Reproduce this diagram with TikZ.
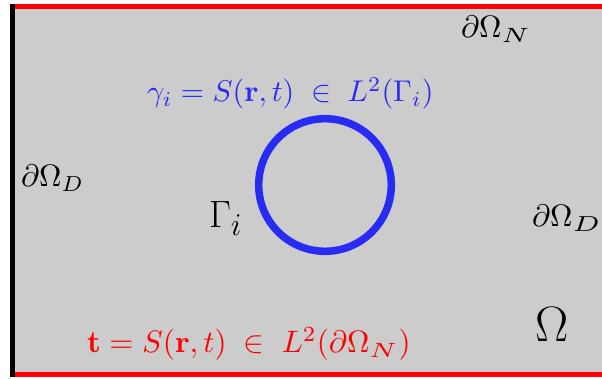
\documentclass[tikz,border=0pt]{standalone}
\usepackage{amsmath}
\usepackage{graphicx}
\definecolor{bggray}{RGB}{204,204,204}
\definecolor{myblue}{RGB}{40,44,242}
\definecolor{myred}{RGB}{255,0,0}
\newcommand{\subN}{\scalebox{1.25}[0.95]{$\scriptstyle N$}}
\newcommand{\subDwide}{\scalebox{1.3}[1]{$\scriptstyle D$}}
\begin{document}
\begin{tikzpicture}[x=1pt,y=1pt,
  lbl/.style={anchor=base west,inner sep=0pt,outer sep=0pt},
  bigtext/.style={font=\Huge}]
\useasboundingbox (0,0) rectangle (602,379);
\begin{scope}
\clip (0,0) rectangle (602,379);
\fill[bggray] (12,5) rectangle (610,374);
\draw[black,line width=5pt] (12.5,2) -- (12.5,375);
\draw[myred,line width=5pt] (15,372.5) -- (610,372.5);
\draw[myred,line width=5pt] (15,4.5) -- (610,4.5);
\draw[myblue,line width=7.5pt] (325,194) circle[radius=66.3];
\node[lbl,scale=3.0,text=myblue] (gam) at (147,277) {$\gamma_i = S(\mathbf{r},t)\;\in\;L^2(\Gamma_i)$};
\node[lbl,scale=3.1,text=myred] (trac) at (87,26) {$\mathbf{t} = S(\mathbf{r},t)\;\in\;L^2(\partial\Omega_{\subN})$};
\node[lbl,bigtext,scale=1.53] (Gam) at (209,151) {$\Gamma_i$};
\node[lbl,scale=3.1] (dDl) at (21,192) {$\partial\Omega_D$};
\node[lbl,scale=3.1] (dDr) at (532,152) {$\partial\Omega_{\subDwide}$};
\node[lbl,scale=3.1] (dN) at (461,341) {$\partial\Omega_{\subN}$};
\node[lbl,bigtext,scale=2.0] (Om) at (535,37) {$\Omega$};
\end{scope}
\end{tikzpicture}
\end{document}
